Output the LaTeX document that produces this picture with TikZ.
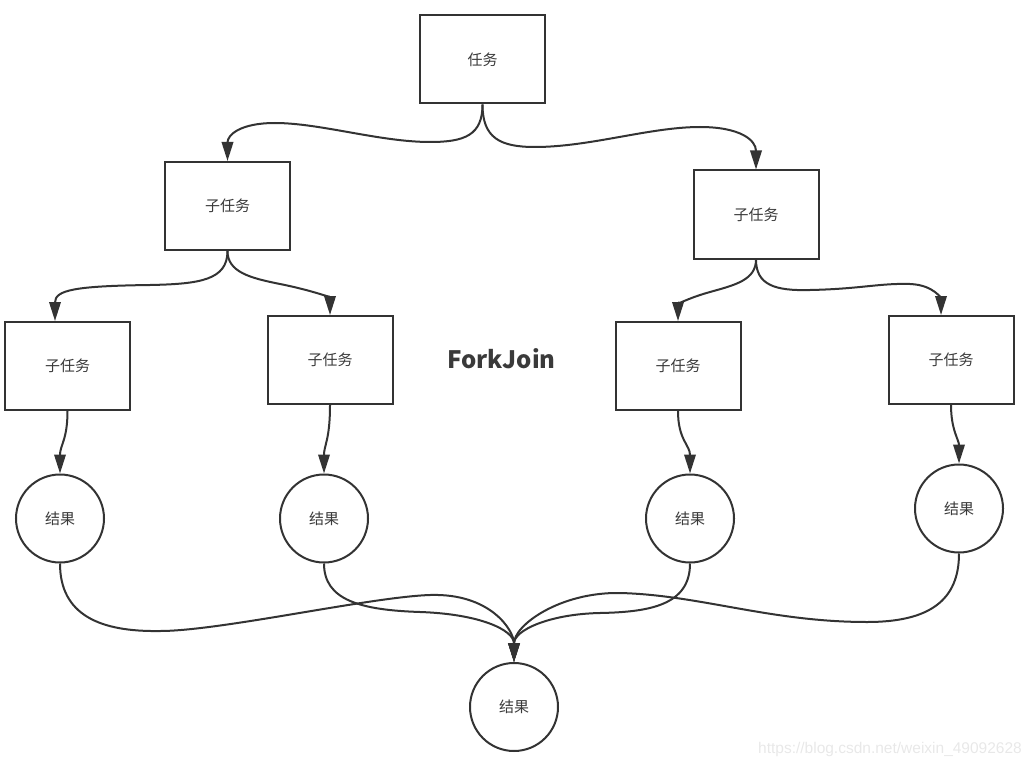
\documentclass[tikz,border=0pt]{standalone}
\usepackage{fontspec}
\setmainfont{Liberation Sans}
\newfontfamily\cjk{Noto Sans CJK SC}
\usetikzlibrary{arrows.meta}
\definecolor{ln}{HTML}{333333}
\definecolor{tx}{HTML}{3A3A3A}
\definecolor{wm}{HTML}{E8E8E8}
\begin{document}
\begin{tikzpicture}[x=1pt,y=-1pt,
  box/.style={draw=ln,line width=2pt,fill=white,minimum width=125pt,minimum height=88pt,inner sep=0pt,font=\cjk\fontsize{15}{17}\selectfont,text=tx},
  res/.style={circle,draw=ln,line width=2pt,fill=white,minimum size=88pt,inner sep=0pt,font=\cjk\fontsize{15}{17}\selectfont,text=tx},
  link/.style={draw=ln,line width=2pt,-{Triangle[length=19pt,width=11.5pt]}}]
\useasboundingbox (0,0) rectangle (1035,767);
\node[box] (t) at (482.5,59.5) {任务};
\node[box] (l1) at (227.5,206) {子任务};
\node[box] (r1) at (756,214.5) {子任务};
\node[box] (ll) at (67.5,366) {子任务};
\node[box] (lr) at (330,360) {子任务};
\node[box] (rl) at (678,366) {子任务};
\node[box] (rr) at (951,360) {子任务};
\node[res] (c1) at (60,518.5) {结果};
\node[res] (c2) at (324,518.5) {结果};
\node[res] (c3) at (690,518.5) {结果};
\node[res] (c4) at (959,508.5) {结果};
\node[res] (cb) at (514,707) {结果};
\node[font=\cjk\bfseries\fontsize{24}{28}\selectfont,text=tx] (fj) at (501.5,359) {ForkJoin};
\node[font=\fontsize{15.5}{18}\selectfont,text=wm] (wm) at (890,749) {https://blog.csdn.net/weixin\_49092628};
% top level
\draw[link] (t.south) .. controls (482.5,135) and (465,142) .. (430,142)
  .. controls (380,142) and (320,123) .. (275,123)
  .. controls (240,123) and (227.5,135) .. (l1.north);
\draw[link] (t.south) .. controls (482.5,138) and (500,147) .. (535,147)
  .. controls (590,147) and (650,127) .. (700,127)
  .. controls (740,127) and (756,140) .. (r1.north);
% second level
\draw[link] (l1.south) .. controls (227.5,280) and (200,284) .. (150,285)
  .. controls (75,286) and (55,290) .. ([xshift=-12.5pt]ll.north);
\draw[link] (l1.south) .. controls (227.5,272) and (250,278) .. (280,284)
  .. controls (315,291) and (330,298) .. (lr.north);
\draw[link] (r1.south) .. controls (756,280) and (735,285) .. (710,292)
  .. controls (685,299) and (678,305) .. (rl.north);
\draw[link] (r1.south) .. controls (756,285) and (775,291) .. (810,290)
  .. controls (860,289) and (880,283) .. (910,284)
  .. controls (935,285) and (941,300) .. ([xshift=-10pt]rr.north);
% to results
\draw[link] (ll.south) .. controls (67.5,440) and (60,445) .. (c1.north);
\draw[link] (lr.south) .. controls (330,440) and (324,445) .. (c2.north);
\draw[link] (rl.south) .. controls (678,440) and (690,445) .. (c3.north);
\draw[link] (rr.south) .. controls (951,430) and (959,440) .. (c4.north);
% joins
\draw[link] (c1.south) .. controls (60,615) and (100,632) .. (160,631)
  .. controls (220,631) and (370,597) .. (430,595)
  .. controls (490,593) and (514,630) .. (cb.north);
\draw[link] (c2.south) .. controls (324,600) and (360,610) .. (420,612)
  .. controls (480,614) and (514,630) .. (cb.north);
\draw[link] (c3.south) .. controls (690,605) and (650,612) .. (600,613)
  .. controls (550,614) and (514,630) .. (cb.north);
\draw[link] (c4.south) .. controls (959,600) and (930,622) .. (867,622)
  .. controls (770,622) and (700,595) .. (620,593)
  .. controls (560,592) and (514,625) .. (cb.north);
\end{tikzpicture}
\end{document}
